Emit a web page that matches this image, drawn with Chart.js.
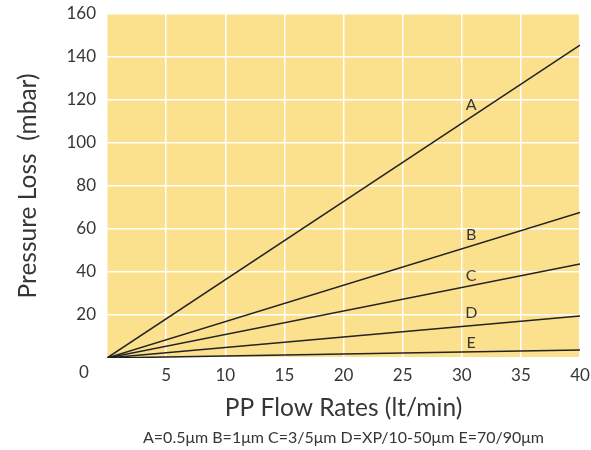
<!DOCTYPE html>
<html>
<head>
<meta charset="utf-8">
<script src="https://cdn.jsdelivr.net/npm/chart.js@4"></script>
<style>
  body { margin: 0; background: #fff; }
</style>
</head>
<body>
<canvas id="chart" width="591" height="450"></canvas>
<script>
// flow rate range (lt/min) and pressure loss at each end (mbar)
const flowRates = [0, 40];
const seriesA = [0, 145.5];
const seriesB = [0, 67.7];
const seriesC = [0, 43.7];
const seriesD = [0, 19.5];
const seriesE = [0, 3.7];

const seriesNames = ['A', 'B', 'C', 'D', 'E'];
// where each letter sits, in data units
const letterX = [30.8, 30.8, 30.8, 30.8, 30.8];
const letterY = [117.7, 57.2, 38, 21, 7];

const yTicks = [0, 20, 40, 60, 80, 100, 120, 140, 160];
const xTicks = [0, 5, 10, 15, 20, 25, 30, 35, 40];

const footNote = 'A=0.5μm B=1μm C=3/5μm D=XP/10-50μm E=70/90μm';

const textColor = '#363636';
const fontName = 'Lato, "Noto Sans", sans-serif';

function toPoints(values) {
    return values.map((v, i) => ({ x: flowRates[i], y: v }));
}

const allSeries = [seriesA, seriesB, seriesC, seriesD, seriesE];

const plotBackground = {
    id: 'plotBackground',
    beforeDraw(chart) {
        const { ctx, chartArea } = chart;
        ctx.save();
        ctx.fillStyle = '#fbe18d';
        ctx.fillRect(chartArea.left, chartArea.top, chartArea.right - chartArea.left, chartArea.bottom - chartArea.top);
        ctx.restore();
    }
};

const lineLetters = {
    id: 'lineLetters',
    afterDatasetsDraw(chart) {
        const { ctx, chartArea, scales } = chart;
        ctx.save();
        ctx.fillStyle = textColor;
        ctx.font = '16px ' + fontName;
        ctx.textAlign = 'center';
        ctx.textBaseline = 'middle';
        seriesNames.forEach((name, i) => {
            ctx.fillText(name, scales.x.getPixelForValue(letterX[i]), scales.y.getPixelForValue(letterY[i]));
        });
        // shared origin label sits off the corner
        ctx.font = '17px ' + fontName;
        ctx.fillText('0', chartArea.left - 23, chartArea.bottom + 15);
        // grade key under the axis title
        ctx.font = '16px ' + fontName;
        ctx.fillText(footNote, (chartArea.left + chartArea.right) / 2, 438);
        ctx.restore();
    }
};

new Chart(document.getElementById('chart'), {
    type: 'line',
    data: {
        datasets: allSeries.map((s, i) => ({
            label: seriesNames[i],
            data: toPoints(s),
            borderColor: '#222222',
            borderWidth: 1.5,
            pointRadius: 0,
            fill: false
        }))
    },
    options: {
        responsive: false,
        animation: false,
        layout: { padding: { top: 14, right: 11, left: 0, bottom: 0 } },
        plugins: {
            legend: { display: false },
            tooltip: { enabled: false }
        },
        scales: {
            x: {
                type: 'linear',
                min: 0,
                max: 40,
                afterBuildTicks: (scale) => { scale.ticks = xTicks.map(v => ({ value: v })); },
                afterFit: (scale) => {
                    scale.height = 92;
                    scale.paddingLeft = 0;
                    scale.paddingRight = 0;
                },
                border: { display: false },
                grid: { color: '#ffffff', lineWidth: 1.5, drawTicks: false },
                ticks: {
                    color: textColor,
                    font: { family: fontName, size: 17 },
                    padding: 7,
                    maxRotation: 0,
                    callback: (v) => v === 0 ? '' : v
                },
                title: {
                    display: true,
                    text: 'PP Flow Rates (lt/min)',
                    color: textColor,
                    font: { family: fontName, size: 24.5 },
                    padding: { top: 0, bottom: 27 }
                }
            },
            y: {
                min: 0,
                max: 160,
                afterBuildTicks: (scale) => { scale.ticks = yTicks.map(v => ({ value: v })); },
                afterFit: (scale) => {
                    scale.width = 107;
                    scale.paddingTop = 0;
                    scale.paddingBottom = 0;
                },
                border: { display: false },
                grid: { color: '#ffffff', lineWidth: 1.5, drawTicks: false },
                ticks: {
                    color: textColor,
                    font: { family: fontName, size: 17 },
                    padding: 11,
                    callback: (v) => v === 0 ? '' : v
                },
                title: {
                    display: true,
                    text: 'Pressure Loss  (mbar)',
                    color: textColor,
                    font: { family: fontName, size: 24.5 },
                    padding: { top: 13, bottom: 0 }
                }
            }
        }
    },
    plugins: [plotBackground, lineLetters]
});
</script>
</body>
</html>
